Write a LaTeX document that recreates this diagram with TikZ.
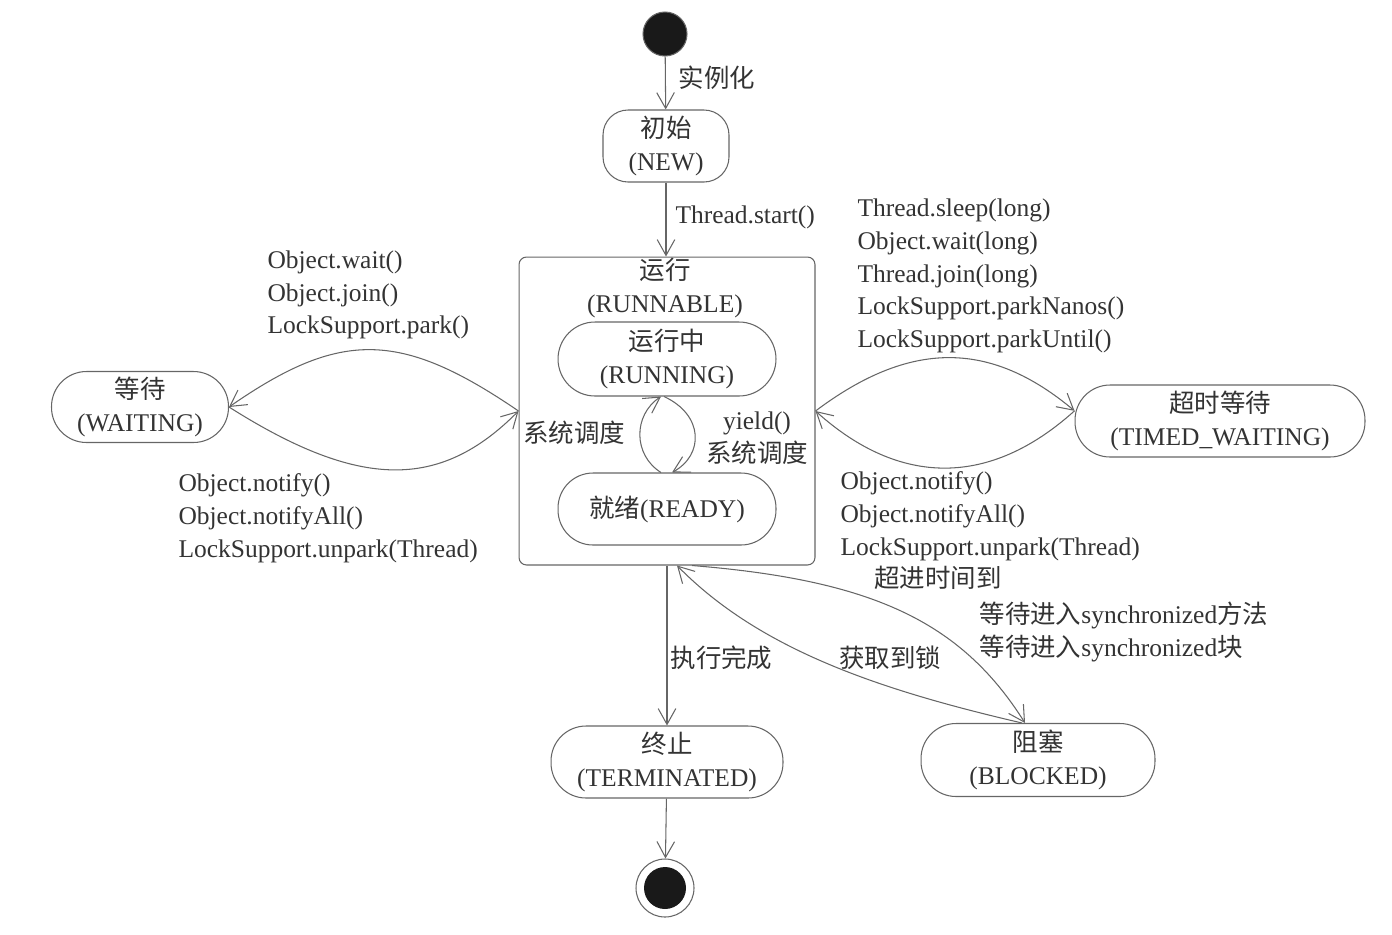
\documentclass[tikz,border=0pt]{standalone}
\usepackage{fontspec}
\setmainfont{Liberation Serif}
\newfontfamily\cjk{Noto Sans CJK SC}
\newcommand{\zh}[1]{{\cjk #1}}
\usetikzlibrary{arrows.meta}

\begin{document}
\begin{tikzpicture}[x=0.02cm,y=-0.02cm,
    font=\fontsize{14.5pt}{18.7pt}\selectfont,
    line width=0.6pt, >={Straight Barb[length=9pt,width=10pt]},
    every node/.style={text=black!80},
    state/.style={draw=black!60,rounded corners=0.7cm,align=center,minimum height=1.44cm,inner sep=0pt},
    lbl/.style={inner sep=0pt,align=left},
    link/.style={->,draw=black!60}]
    \useasboundingbox (0,0) rectangle (1392,934);

    % states
    \node[circle,fill=black!90,draw=black!60,minimum size=0.88cm] (start) at (665,34) {};
    \node[state,rounded corners=0.5cm,minimum width=2.52cm] (new) at (666,146) {\zh{初始}\\(NEW)};
    \node[draw=black!60,rounded corners=0.15cm,minimum width=5.92cm,minimum height=6.16cm] (runnable) at (667,411) {};
    \node[lbl,align=center] (runtitle) at (665,288) {\zh{运行}\\(RUNNABLE)};
    \node[state,rounded corners=0.74cm,minimum width=4.36cm,minimum height=1.48cm] (running) at (667,359) {\zh{运行中}\\(RUNNING)};
    \node[state,minimum width=4.36cm] (ready) at (667,509) {\zh{就绪}(READY)};
    \node[state,minimum width=3.54cm,minimum height=1.42cm] (waiting) at (140,407) {\zh{等待}\\(WAITING)};
    \node[state,minimum width=5.8cm] (timed) at (1220,421) {\zh{超时等待}\\(TIMED\_WAITING)};
    \node[state,minimum width=4.64cm] (term) at (667,762) {\zh{终止}\\(TERMINATED)};
    \node[state,minimum width=4.68cm,minimum height=1.46cm] (blocked) at (1038,760) {\zh{阻塞}\\(BLOCKED)};
    \node[circle,draw=black!60,minimum size=1.16cm] (stop) at (665,888) {};
    \node[circle,fill=black!90,minimum size=0.84cm] (stopdot) at (stop) {};

    % transitions
    \draw[link] (start) -- (new);
    \node[lbl,anchor=west] (inst) at (678,78) {\zh{实例化}};
    \draw[link] (new) -- (runnable.north -| new);
    \node[lbl,anchor=west] (startlbl) at (675,217) {Thread.start()};

    \draw[link] ([xshift=-0.12cm]ready.north) .. controls (633,455) and (633,415) .. ([xshift=-0.12cm]running.south);
    \draw[link] ([xshift=-0.06cm]running.south) .. controls (704,415) and (704,455) .. ([xshift=0.1cm]ready.north);
    \node[lbl] (sched) at (574,433) {\zh{系统调度}};
    \node[lbl,align=center] (yieldlbl) at (757,438) {yield()\\\zh{系统调度}};

    \draw[link] (runnable.west) .. controls (400,330) and (340,330) .. (waiting.east);
    \draw[link] (waiting.east) .. controls (360,490) and (440,490) .. (runnable.west);
    \node[lbl,anchor=west] (waitin) at (267,295) {Object.wait()\\Object.join()\\LockSupport.park()};
    \node[lbl,anchor=west] (waitout) at (178,518) {Object.notify()\\Object.notifyAll()\\LockSupport.unpark(Thread)};

    \draw[link] (runnable.east) .. controls (910,340) and (990,340) .. (timed.176);
    \draw[link] (timed.176) .. controls (990,487) and (900,487) .. (runnable.east);
    \node[lbl,anchor=west] (timedin) at (857,276) {Thread.sleep(long)\\Object.wait(long)\\Thread.join(long)\\LockSupport.parkNanos()\\LockSupport.parkUntil()};
    \node[lbl,anchor=west] (timedout) at (840,516) {Object.notify()\\Object.notifyAll()\\LockSupport.unpark(Thread)};

    \draw[link] (runnable.south -| term) -- (term);
    \node[lbl,anchor=west] (done) at (670,658) {\zh{执行完成}};
    \draw[link] (term) -- (stop);

    \draw[link] ([xshift=0.5cm]runnable.south) .. controls (870,580) and (960,620) .. ([xshift=-0.26cm]blocked.north);
    \draw[link] ([xshift=-0.32cm]blocked.north) .. controls (880,690) and (760,650) .. ([xshift=0.2cm]runnable.south);
    \node[lbl] (timeout) at (938,578) {\zh{超进时间到}};
    \node[lbl,anchor=west] (syncin) at (979,632) {\zh{等待进入}synchronized\zh{方法}\\\zh{等待进入}synchronized\zh{块}};
    \node[lbl] (lockgot) at (890,658) {\zh{获取到锁}};
\end{tikzpicture}
\end{document}
